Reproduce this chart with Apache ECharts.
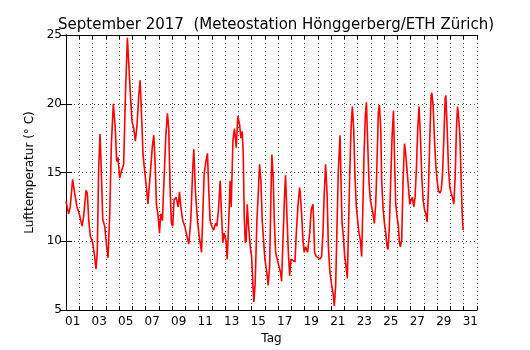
<!DOCTYPE html>
<html>
<head>
<meta charset="utf-8">
<script src="https://cdn.jsdelivr.net/npm/echarts@6/dist/echarts.min.js"></script>
<style>html,body{margin:0;padding:0;background:#fff;overflow:hidden}#c{width:530px;height:350px}</style>
</head>
<body>
<div id="c"></div>
<script>
// Time in days since 1 Sep 2017 00:00
var times = [0.00,0.20,0.32,0.50,0.65,0.83,1.00,1.21,1.33,1.51,1.61,1.71,1.83,2.01,2.16,2.26,2.36,2.46,2.57,2.67,2.77,2.92,3.07,3.17,3.30,3.42,3.57,3.72,3.82,3.92,4.05,4.18,4.35,4.48,4.63,4.73,4.86,4.98,5.11,5.23,5.36,5.49,5.59,5.69,5.81,5.99,6.11,6.18,
6.27,6.39,6.52,6.62,6.72,6.82,6.95,7.05,7.15,7.27,7.40,7.52,7.65,7.75,7.85,7.95,8.05,8.15,8.31,8.46,8.56,8.66,8.81,8.96,9.11,9.26,9.41,9.56,9.64,9.77,9.92,10.04,10.12,10.22,10.32,10.42,10.55,10.67,10.77,10.87,11.00,11.13,11.28,11.38,11.50,11.63,11.73,11.83,11.93,12.06,12.16,12.26,12.38,
12.46,12.59,12.71,12.84,12.96,13.09,13.19,13.29,13.37,13.44,13.52,13.59,13.67,13.77,13.90,14.00,14.10,14.17,14.27,14.40,14.50,14.60,14.70,14.80,14.90,15.00,15.15,15.25,15.36,15.46,15.53,15.63,15.71,15.81,15.93,16.06,16.19,16.26,16.36,16.49,16.56,16.66,16.77,16.87,16.97,17.12,17.27,17.37,17.49,17.62,17.67,17.77,17.87,17.97,18.07,18.22,18.38,18.50,18.63,
18.68,18.75,18.88,19.03,19.16,19.28,19.38,19.48,19.58,19.69,19.79,19.91,20.04,20.16,20.24,20.34,20.44,20.54,20.67,20.74,20.82,20.92,21.02,21.12,21.22,21.30,21.40,21.50,21.60,21.70,21.80,21.90,22.00,22.10,22.20,22.30,22.38,22.48,22.58,22.66,22.76,22.86,22.96,23.06,23.16,23.26,23.36,23.46,23.56,23.64,23.74,23.81,23.91,24.02,24.12,24.22,24.29,24.39,24.49,24.59,24.70,
24.80,24.87,24.97,25.07,25.15,25.22,25.32,25.43,25.53,25.63,25.73,25.83,25.93,26.03,26.13,26.23,26.33,26.43,26.53,26.63,26.73,26.84,26.94,27.04,27.14,27.24,27.34,27.44,27.54,27.59,27.69,27.79,27.89,27.99,28.09,28.19,28.30,28.40,28.50,28.60,28.65,28.75,28.85,28.95,29.05,29.15,29.25,29.35,29.45,29.53,29.60,29.71,29.81,29.88,29.96];
// Air temperature in degrees C
var temps = [12.9,12.0,12.5,14.5,13.5,12.5,12.0,11.1,11.8,13.7,13.5,11.6,10.4,9.9,8.9,8.0,9.2,15.2,17.8,14.9,11.6,11.1,9.6,8.8,12.0,17.0,20.0,18.2,15.8,16.1,14.6,15.1,15.6,20.6,24.8,23.0,20.6,18.7,18.2,17.3,18.5,20.6,21.7,19.4,16.3,14.6,13.5,12.7,
13.9,15.3,17.0,17.7,15.8,12.7,11.8,10.6,12.0,11.5,14.6,17.5,19.3,18.2,13.9,11.3,11.1,13.0,13.2,12.5,13.6,12.5,11.5,11.1,10.4,9.8,11.5,15.3,16.7,13.5,11.5,10.4,9.9,9.2,12.0,14.9,15.8,16.4,13.7,11.5,11.1,10.8,11.3,11.1,12.3,14.4,12.0,9.9,10.6,10.1,8.7,11.1,14.4,
12.5,17.3,18.2,16.8,19.1,18.5,17.5,18.0,16.3,12.0,9.9,10.1,12.7,11.1,9.6,8.9,6.8,5.6,7.0,11.5,13.5,15.6,14.4,11.5,10.1,8.7,7.7,6.8,8.2,13.5,16.3,14.6,11.5,9.2,8.7,8.2,7.7,7.1,9.9,13.5,14.8,12.0,9.2,7.5,8.7,8.7,8.5,10.6,12.5,13.9,13.5,12.0,10.1,9.2,9.6,9.2,10.6,12.3,12.7,
11.5,9.2,8.9,8.8,8.7,8.9,10.6,13.5,15.6,13.5,9.6,7.7,6.8,6.1,5.3,6.8,11.1,15.1,17.7,14.6,11.3,10.4,8.9,8.2,7.3,10.6,14.9,18.2,19.8,18.2,14.6,12.5,11.5,10.6,10.1,8.9,12.0,16.3,19.2,20.1,17.0,14.2,13.0,12.5,12.0,11.3,12.7,15.8,19.4,19.9,18.2,14.4,12.5,11.3,10.6,9.6,9.4,11.1,14.4,17.5,19.5,
15.2,12.7,11.8,11.1,9.9,9.6,10.1,14.6,17.1,16.3,15.1,13.9,12.7,13.0,13.2,12.5,13.2,15.3,18.2,19.8,17.7,14.6,13.0,12.3,12.0,11.4,13.9,17.5,20.6,20.8,19.9,17.5,15.6,14.4,13.7,13.5,13.7,14.9,17.5,20.4,20.6,18.2,15.3,13.9,13.5,13.2,12.7,14.6,18.2,19.8,19.2,17.7,14.4,12.0,10.8];
var labelDays = [1,3,5,7,9,11,13,15,17,19,21,23,25,27,29,31];
var yTicks = [5,10,15,20,25];

var font = 'DejaVu Sans';
var labelPos = labelDays.map(function(d){ return d - 0.5; });
var data = times.map(function(t,i){ return [t, temps[i]]; });
var grid = {type:[1,3], color:'#444', width:1};

var chart = echarts.init(document.getElementById('c'));
chart.setOption({
  animation:false,
  title:{text:'September 2017  (Meteostation Hönggerberg/ETH Zürich)', left:53, top:13,
    textStyle:{fontFamily:font, fontSize:15, fontWeight:'normal', color:'#000'}},
  grid:{left:66, right:53, top:35, bottom:35},
  xAxis:[{
    type:'value', min:0, max:31, interval:1, position:'bottom',
    name:'Tag', nameLocation:'middle', nameGap:20,
    nameTextStyle:{fontFamily:font, fontSize:12, color:'#000', verticalAlign:'top'},
    axisLine:{show:true, lineStyle:{color:'#000', width:1}},
    axisTick:{show:true, inside:true, length:4, lineStyle:{color:'#000'}},
    splitLine:{show:true, lineStyle:grid},
    axisLabel:{customValues:labelPos, margin:6, fontFamily:font, fontSize:12, color:'#000',
      formatter:function(v){ var d=Math.round(v+0.5); return (d<10?'0':'')+d; }}
  },{
    type:'value', min:0, max:31, interval:1, position:'top',
    axisLine:{show:true, lineStyle:{color:'#000', width:1}},
    axisTick:{show:true, inside:true, length:4, lineStyle:{color:'#000'}},
    splitLine:{show:false}, axisLabel:{show:false}
  }],
  yAxis:[{
    type:'value', min:yTicks[0], max:yTicks[yTicks.length-1], interval:5, position:'left',
    name:'Lufttemperatur (° C)', nameLocation:'middle', nameGap:30,
    nameTextStyle:{fontFamily:font, fontSize:12, color:'#000'},
    axisLine:{show:true, lineStyle:{color:'#000', width:1}},
    axisTick:{show:true, inside:true, length:6, lineStyle:{color:'#000'}},
    splitLine:{show:true, lineStyle:grid},
    axisLabel:{margin:4, fontFamily:font, fontSize:12, color:'#000'}
  },{
    type:'value', min:yTicks[0], max:yTicks[yTicks.length-1], interval:5, position:'right',
    axisLine:{show:true, lineStyle:{color:'#000', width:1}},
    axisTick:{show:true, inside:true, length:6, lineStyle:{color:'#000'}},
    splitLine:{show:false}, axisLabel:{show:false}
  }],
  series:[{
    type:'line', data:data, xAxisIndex:0, yAxisIndex:0,
    showSymbol:false, symbol:'none',
    lineStyle:{color:'#ff0000', width:1.6}
  }]
});
</script>
</body>
</html>
